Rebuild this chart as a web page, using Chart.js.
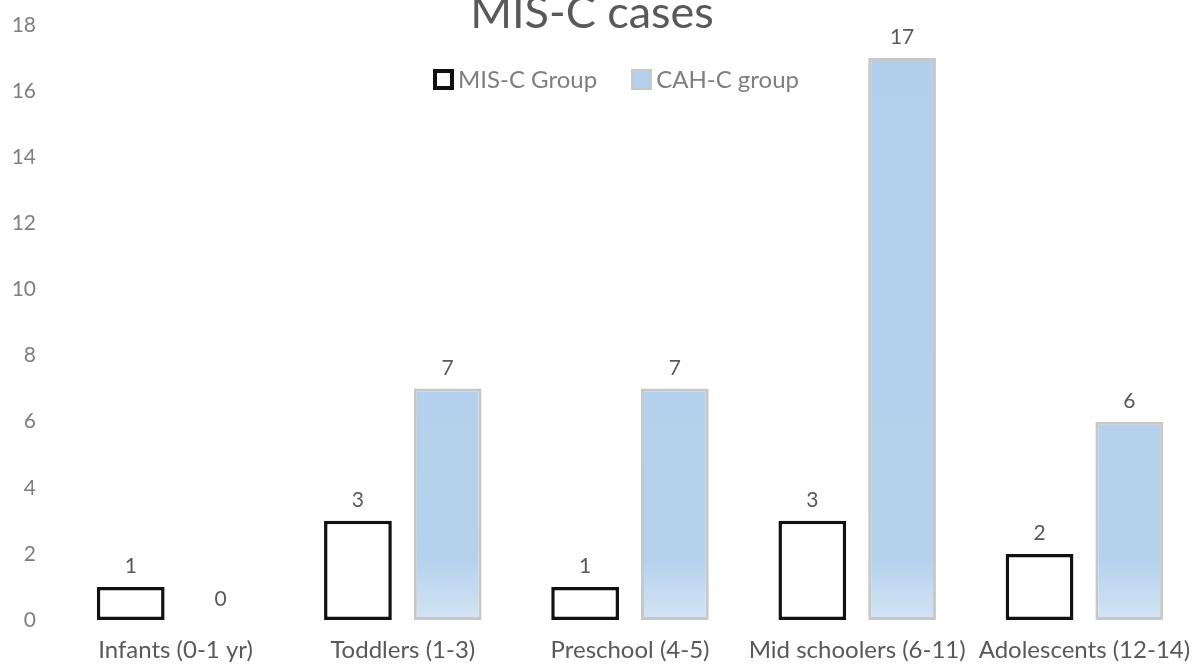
<!DOCTYPE html>
<html>
<head>
<meta charset="utf-8">
<script src="https://cdn.jsdelivr.net/npm/chart.js@4"></script>
<style>
  html, body { margin: 0; padding: 0; background: #fff; overflow: hidden; }
  #wrap { position: relative; width: 1198px; height: 666px; font-family: Lato, sans-serif; }
  #chart { position: absolute; left: 0; top: 0; }
  #title {
    position: absolute; left: 0; top: -16px; width: 1184px; text-align: center;
    font-size: 45px; color: #595959; line-height: 54px;
  }
  #legend {
    position: absolute; left: 433px; top: 66px; display: flex; align-items: center;
    font-size: 24px; color: #7f7f7f; line-height: 26px;
  }
  #legend .item { display: flex; align-items: center; margin-right: 34px; }
  #legend .box { box-sizing: border-box; width: 21px; height: 21px; margin-right: 4px; }
</style>
</head>
<body>
<div id="wrap">
  <canvas id="chart" width="1198" height="666"></canvas>
  <div id="title">MIS-C cases</div>
  <div id="legend"></div>
</div>
<script>
// chart data
const categories = ['Infants (0-1 yr)', 'Toddlers (1-3)', 'Preschool (4-5)', 'Mid schoolers (6-11)', 'Adolescents (12-14)'];
const miscGroup = [1, 3, 1, 3, 2];
const cahcGroup = [0, 7, 7, 17, 6];
const yTicks = [0, 2, 4, 6, 8, 10, 12, 14, 16, 18];

const FONT = 'Lato, sans-serif';

// light blue fill, paler toward the bottom like the original
function blueFill(context) {
    const chart = context.chart;
    const area = chart.chartArea;
    if (!area) return '#b3d1ec';
    const g = chart.ctx.createLinearGradient(0, area.bottom, 0, area.top);
    g.addColorStop(0, '#d3e4f4');
    g.addColorStop(0.1, '#b5d2ed');
    g.addColorStop(1, '#b1cfeb');
    return g;
}

// draws the value above each bar
const valueLabels = {
    id: 'valueLabels',
    afterDatasetsDraw(chart) {
        const ctx = chart.ctx;
        ctx.save();
        ctx.font = '21px ' + FONT;
        ctx.fillStyle = '#595959';
        ctx.textAlign = 'center';
        ctx.textBaseline = 'bottom';
        chart.data.datasets.forEach((ds, i) => {
            chart.getDatasetMeta(i).data.forEach((bar, j) => {
                ctx.fillText(String(ds.data[j]), bar.x, bar.y - 10);
            });
        });
        ctx.restore();
    }
};

const chart = new Chart(document.getElementById('chart'), {
    type: 'bar',
    data: {
        labels: categories,
        datasets: [
            {
                label: 'MIS-C Group',
                data: miscGroup,
                backgroundColor: '#ffffff',
                borderColor: '#111111',
                borderWidth: 3.5,
                borderSkipped: false
            },
            {
                label: 'CAH-C group',
                data: cahcGroup,
                backgroundColor: blueFill,
                borderColor: '#c8c8c8',
                borderWidth: 3,
                borderSkipped: false
            }
        ]
    },
    options: {
        responsive: false,
        animation: false,
        devicePixelRatio: 1,
        categoryPercentage: 0.79,
        barPercentage: 0.755,
        layout: { padding: { top: 25, right: 0, left: 0, bottom: 0 } },
        scales: {
            x: {
                grid: { display: false },
                border: { display: false },
                ticks: { color: '#595959', font: { family: FONT, size: 24 }, padding: 8, maxRotation: 0, autoSkip: false },
                afterFit(scale) { scale.height = 46; scale.paddingLeft = 0; scale.paddingRight = 0; }
            },
            y: {
                min: 0,
                max: 18,
                grid: { display: false },
                border: { display: false },
                afterBuildTicks(scale) { scale.ticks = yTicks.map(v => ({ value: v })); },
                ticks: { color: '#7f7f7f', font: { family: FONT, size: 21 }, padding: 18 },
                afterFit(scale) { scale.width = 62; scale.paddingTop = 0; scale.paddingBottom = 0; }
            }
        },
        plugins: {
            title: { display: false },
            tooltip: { enabled: false },
            legend: { display: false }
        }
    },
    plugins: [valueLabels]
});

// legend as html, built from the datasets
const legendEl = document.getElementById('legend');
chart.data.datasets.forEach((ds, i) => {
    const item = document.createElement('span');
    item.className = 'item';
    const box = document.createElement('span');
    box.className = 'box';
    box.style.border = (i === 0 ? 4 : 2) + 'px solid ' + ds.borderColor;
    box.style.background = i === 0 ? ds.backgroundColor : '#b3d1ec';
    const text = document.createElement('span');
    text.textContent = ds.label;
    item.appendChild(box);
    item.appendChild(text);
    legendEl.appendChild(item);
});
</script>
</body>
</html>
